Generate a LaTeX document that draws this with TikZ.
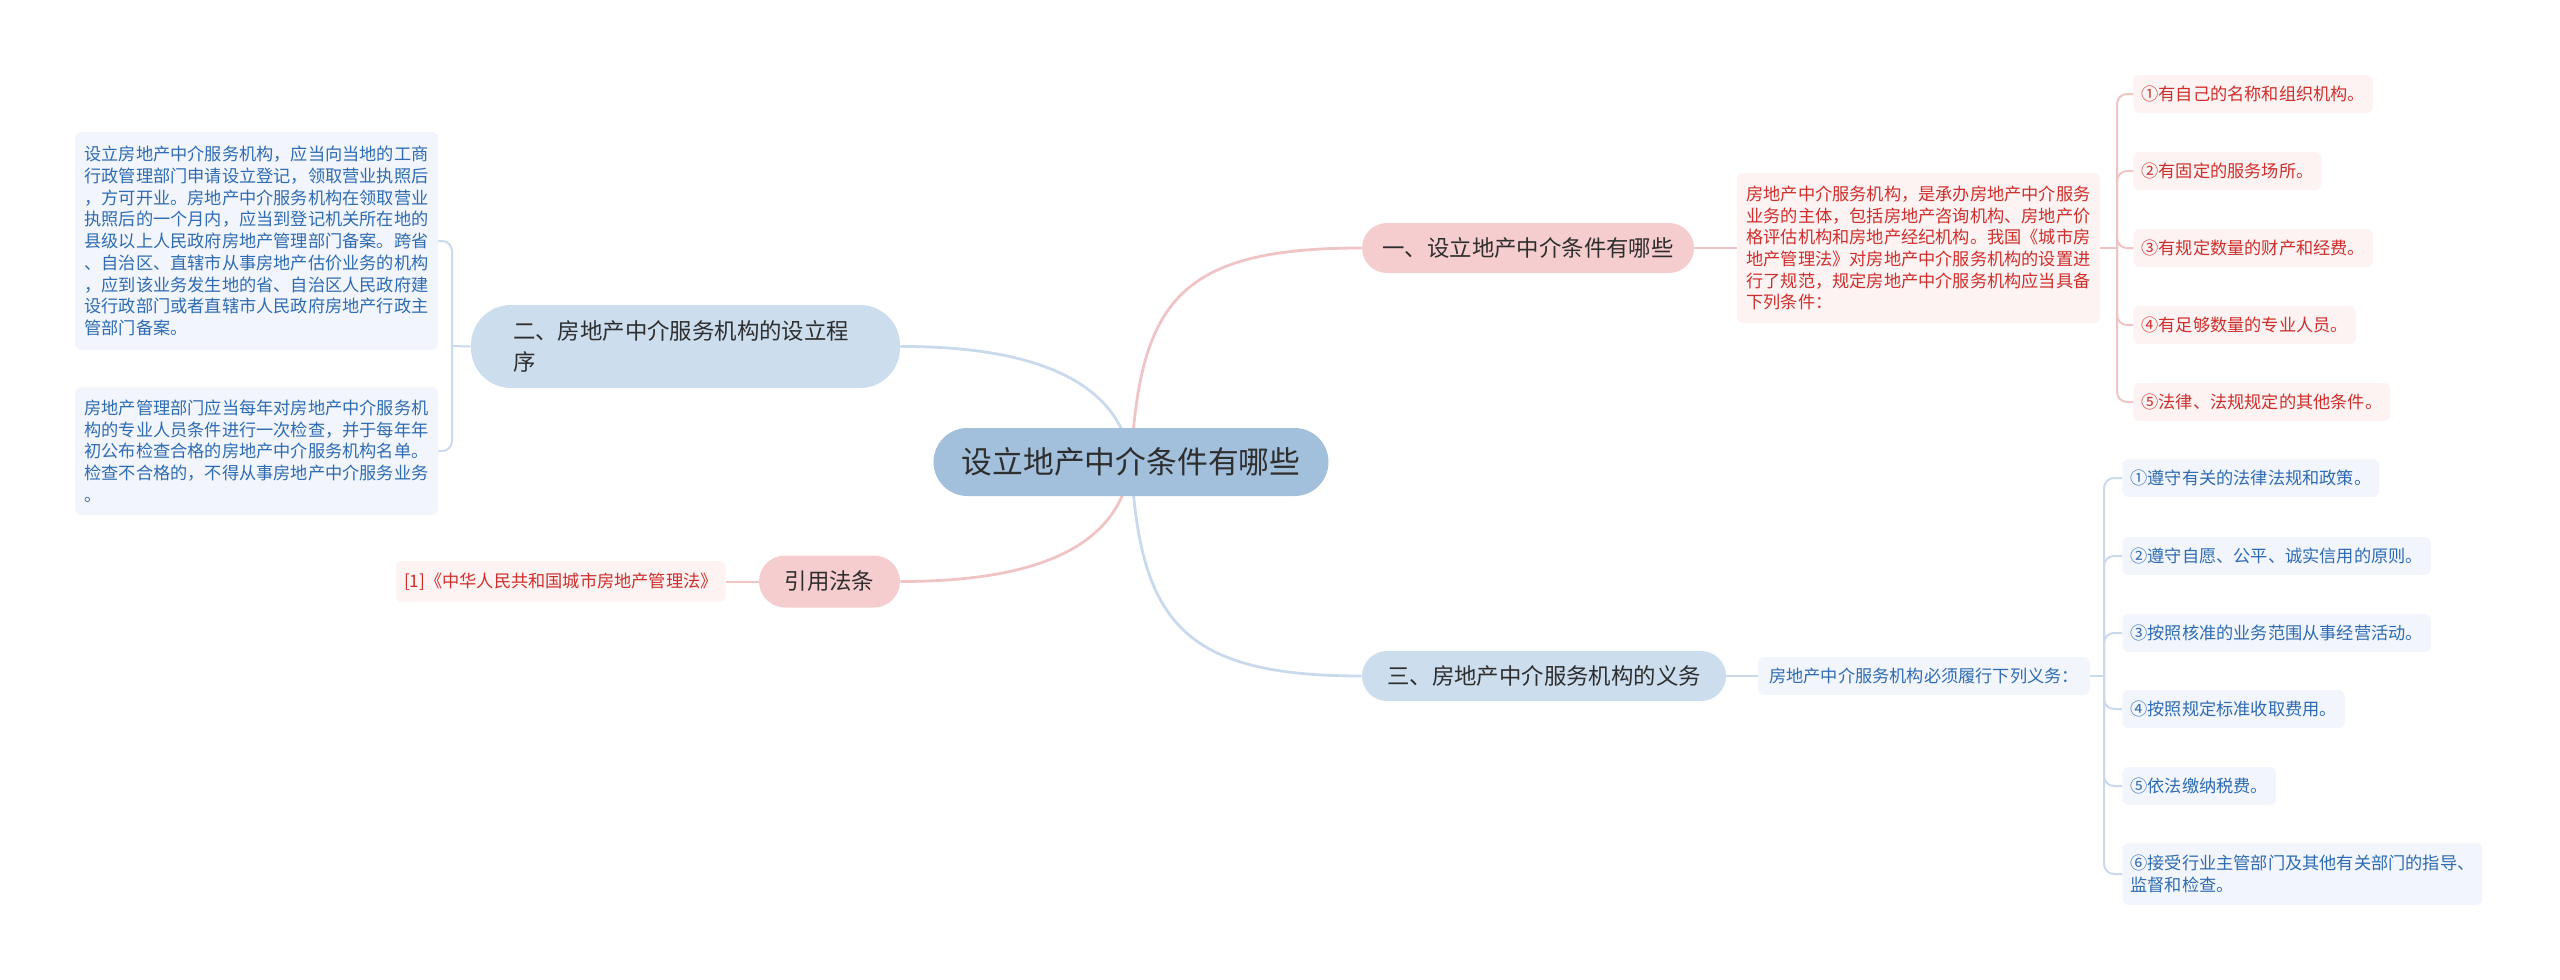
\documentclass[tikz,border=0pt]{standalone}
\usepackage{fontspec}
\setmainfont{Noto Sans CJK SC}
\usetikzlibrary{backgrounds}
\definecolor{centralfill}{HTML}{A2BFDC}
\definecolor{pinkfill}{HTML}{F6CDCE}
\definecolor{bluefill}{HTML}{CCDDEE}
\definecolor{pinklight}{HTML}{FDF3F3}
\definecolor{bluelight}{HTML}{F2F6FC}
\definecolor{redtext}{HTML}{CE2F2C}
\definecolor{bluetext}{HTML}{2E6BB2}
\definecolor{pinkline}{HTML}{F0C4C5}
\definecolor{blueline}{HTML}{C8DAEB}
\definecolor{darktext}{HTML}{2E2E2E}
\tikzset{
  central/.style={fill=centralfill, rounded corners=17pt, minimum width=197.5pt, minimum height=34pt, inner sep=0pt, text=darktext, font=\fontsize{15.4pt}{19pt}\selectfont},
  branchp/.style={fill=pinkfill, rounded corners=12.5pt, minimum height=25pt, inner sep=0pt, text=darktext, font=\fontsize{11.2pt}{15.5pt}\selectfont},
  branchb/.style={fill=bluefill, rounded corners=12.5pt, minimum height=25pt, inner sep=0pt, text=darktext, font=\fontsize{11.2pt}{15.5pt}\selectfont},
  leafr/.style={fill=pinklight, rounded corners=3pt, inner xsep=4pt, inner ysep=0pt, minimum height=19pt, text=redtext, align=left, font=\fontsize{8.6pt}{10.85pt}\selectfont},
  leafb/.style={fill=bluelight, rounded corners=3pt, inner xsep=4pt, inner ysep=0pt, minimum height=19pt, text=bluetext, align=left, font=\fontsize{8.6pt}{10.85pt}\selectfont},
  pinkcurve/.style={draw=pinkline, line width=1.4pt},
  bluecurve/.style={draw=blueline, line width=1.4pt},
  pinkbr/.style={draw=pinkline, line width=1pt, rounded corners=5pt},
  bluebr/.style={draw=blueline, line width=1pt, rounded corners=5pt},
}
\begin{document}
\begin{tikzpicture}[x=0.5pt, y=-0.5pt]
\useasboundingbox (0,0) rectangle (2560,980);

% central
\node[central] (c) at (1131,462) {设立地产中介条件有哪些};

% branch 1
\node[branchp, minimum width=166pt] (b1) at (1528,248) {一、设立地产中介条件有哪些};
\node[leafr, minimum width=181.5pt, minimum height=75pt] (t1) at (1918.5,248) {房地产中介服务机构，是承办房地产中介服务\\业务的主体，包括房地产咨询机构、房地产价\\格评估机构和房地产经纪机构。我国《城市房\\地产管理法》对房地产中介服务机构的设置进\\行了规范，规定房地产中介服务机构应当具备\\下列条件：};
\node[leafr, anchor=west] (k1) at (2133,94) {①有自己的名称和组织机构。};
\node[leafr, anchor=west] (k2) at (2133,171) {②有固定的服务场所。};
\node[leafr, anchor=west] (k3) at (2133,248) {③有规定数量的财产和经费。};
\node[leafr, anchor=west] (k4) at (2133,325) {④有足够数量的专业人员。};
\node[leafr, anchor=west] (k5) at (2133,402) {⑤法律、法规规定的其他条件。};
\coordinate (j1) at (2117,248);

% branch 2
\node[branchb, minimum width=214.5pt, minimum height=41.5pt, rounded corners=20pt, inner xsep=21pt, text width=172.5pt, align=left] (b2) at (685.5,346.5) {二、房地产中介服务机构的设立程\\序};
\node[leafb, minimum width=181.5pt, minimum height=109pt] (l1) at (256.5,241) {设立房地产中介服务机构，应当向当地的工商\\行政管理部门申请设立登记，领取营业执照后\\，方可开业。房地产中介服务机构在领取营业\\执照后的一个月内，应当到登记机关所在地的\\县级以上人民政府房地产管理部门备案。跨省\\、自治区、直辖市从事房地产估价业务的机构\\，应到该业务发生地的省、自治区人民政府建\\设行政部门或者直辖市人民政府房地产行政主\\管部门备案。};
\node[leafb, minimum width=181.5pt, minimum height=64pt] (l2) at (256.5,451) {房地产管理部门应当每年对房地产中介服务机\\构的专业人员条件进行一次检查，并于每年年\\初公布检查合格的房地产中介服务机构名单。\\检查不合格的，不得从事房地产中介服务业务\\。};
\coordinate (j2) at (452,346);

% citation
\node[branchp, minimum width=70.5pt, minimum height=26pt, rounded corners=13pt] (cite) at (829.5,581.5) {引用法条};
\node[leafr, anchor=east, minimum height=20.5pt] (cl) at (726,581.5) {[1]《中华人民共和国城市房地产管理法》};

% branch 3
\node[branchb, minimum width=182pt] (b3) at (1544,676) {三、房地产中介服务机构的义务};
\node[leafb, minimum width=166pt] (t3) at (1924,676) {房地产中介服务机构必须履行下列义务：};
\node[leafb, anchor=west] (m1) at (2122,478) {①遵守有关的法律法规和政策。};
\node[leafb, anchor=west] (m2) at (2122,556) {②遵守自愿、公平、诚实信用的原则。};
\node[leafb, anchor=west] (m3) at (2122,633) {③按照核准的业务范围从事经营活动。};
\node[leafb, anchor=west] (m4) at (2122,709) {④按照规定标准收取费用。};
\node[leafb, anchor=west] (m5) at (2122,786) {⑤依法缴纳税费。};
\node[leafb, anchor=west, minimum height=31pt] (m6) at (2122,874) {⑥接受行业主管部门及其他有关部门的指导、\\监督和检查。};
\coordinate (j3) at (2104,676);

\begin{pgfonlayer}{background}
\draw[pinkcurve] (c.center) .. controls (1140,300) and (1180,248) .. (b1.west);
\draw[bluecurve] (c.center) .. controls (1122,390) and (1050,346) .. (b2.east);
\draw[pinkcurve] (c.center) .. controls (1122,540) and (1050,581.5) .. (cite.east);
\draw[bluecurve] (c.center) .. controls (1140,620) and (1180,676) .. (b3.west);
\end{pgfonlayer}

\draw[pinkbr] (b1.east) -- (t1.west);
\draw[pinkbr] (t1.east) -- (j1);
\foreach \k in {k1,k2,k3,k4,k5} \draw[pinkbr] (j1) |- (\k.west);

\draw[bluebr] (b2.west) -- (j2);
\draw[bluebr] (j2) |- (l1.east);
\draw[bluebr] (j2) |- (l2.east);

\draw[pinkbr] (cite.west) -- (cl.east);

\draw[bluebr] (b3.east) -- (t3.west);
\draw[bluebr] (t3.east) -- (j3);
\foreach \m in {m1,m2,m3,m4,m5,m6} \draw[bluebr] (j3) |- (\m.west);
\end{tikzpicture}
\end{document}
